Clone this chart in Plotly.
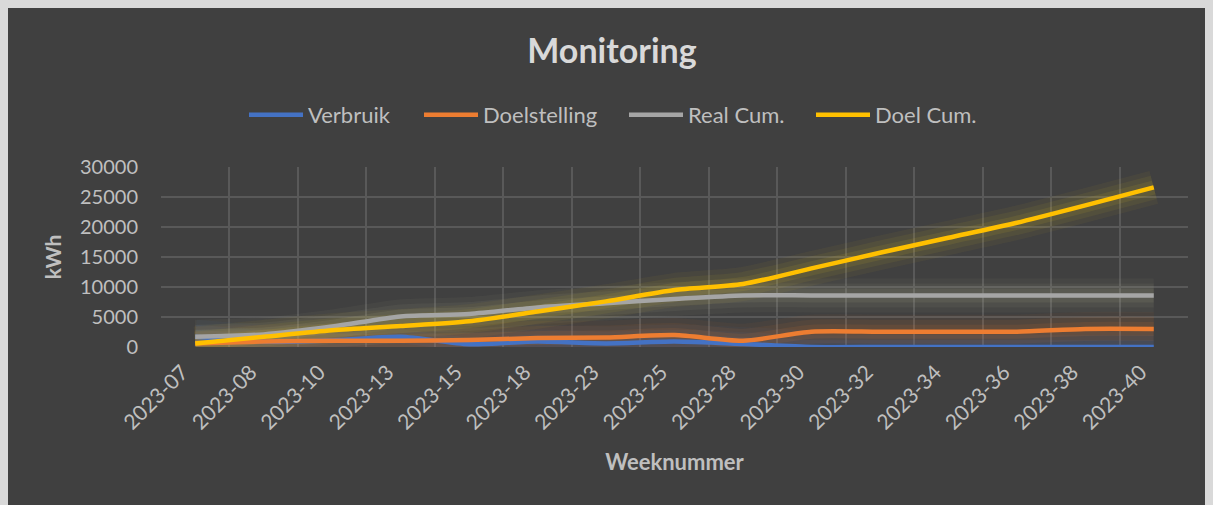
import plotly.graph_objects as go

weeks = ["2023-07", "2023-08", "2023-10", "2023-13", "2023-15", "2023-18", "2023-23",
         "2023-25", "2023-28", "2023-30", "2023-32", "2023-34", "2023-36", "2023-38", "2023-40"]
verbruik = [1700, 900, 1100, 1700, 450, 900, 600, 900, 500, 0, 0, 0, 0, 0, 0]
doelstelling = [600, 900, 1050, 1050, 1150, 1500, 1600, 2000, 1050, 2550, 2550, 2550, 2550, 3000, 3000]
real_cum = [1700, 2100, 3400, 5100, 5500, 6600, 7300, 8000, 8600, 8600, 8600, 8600, 8600, 8600, 8600]
doel_cum = [600, 1700, 2800, 3500, 4300, 5900, 7600, 9500, 10500, 13100, 15700, 18200, 20700, 23600, 26600]

series = [
    ("Verbruik", verbruik, "#4472C4", "68,114,196"),
    ("Doelstelling", doelstelling, "#ED7D31", "237,125,49"),
    ("Real Cum.", real_cum, "#A5A5A5", "190,190,150"),
    ("Doel Cum.", doel_cum, "#FFC000", "230,200,40"),
]
legend_px = [252, 427, 632, 819]  # left edge of each legend line (page px)

fig = go.Figure()
# glow layers
for name, vals, col, rgb in series:
    for w, a in [(34, 0.05), (24, 0.07), (14, 0.10)]:
        fig.add_trace(go.Scatter(x=weeks, y=vals, mode="lines", showlegend=False, hoverinfo="skip",
                                 line=dict(color=f"rgba({rgb},{a})", width=w, shape="spline", smoothing=0.7)))
legend_ids = ["legend", "legend2", "legend3", "legend4"]
for (name, vals, col, rgb), lid in zip(series, legend_ids):
    fig.add_trace(go.Scatter(x=weeks, y=vals, mode="lines", name=name, legend=lid,
                             line=dict(color=col, width=4.5, shape="spline", smoothing=0.7)))

txt = "#BFBFBF"
fnt = "Lato, Open Sans, sans-serif"
legend_layout = {}
for lid, px in zip(legend_ids, legend_px):
    legend_layout[lid] = dict(orientation="h", xref="paper", x=(px - 8 - 153 - 8) / 1027, xanchor="left",
                              y=(339 - 107) / 180, yanchor="middle", font=dict(size=22, color=txt),
                              bgcolor="rgba(0,0,0,0)", itemwidth=54)

# page body adds an 8px margin; figure occupies 1205x497 from (8,8)
fig.update_layout(
    width=1205, height=497,
    margin=dict(l=153, r=25, t=159, b=158, autoexpand=False),
    paper_bgcolor="#404040",
    plot_bgcolor="#404040",
    font=dict(family=fnt, color=txt, size=20),
    title=dict(text="<b>Monitoring</b>", x=604 / 1205, xref="container", xanchor="center",
               y=1 - 43 / 497, yref="container", yanchor="middle",
               font=dict(size=34, color="#D9D9D9", family=fnt)),
    xaxis=dict(type="category", tickson="boundaries", showgrid=True, gridcolor="#595959", gridwidth=1.5,
               tickangle=-45, ticks="", ticklabelstandoff=8, ticklabelshift=-13,
               zeroline=False, showline=False,
               range=[-0.5, 14.5], automargin=False,
               title=dict(text="<b>Weeknummer</b>", font=dict(size=22, color=txt), standoff=21),
               tickfont=dict(size=21, color=txt)),
    yaxis=dict(range=[0, 30000], dtick=5000, showgrid=True, gridcolor="#595959", gridwidth=1.5,
               zeroline=False, showline=False, ticklabelstandoff=22, tickformat="d", automargin=False,
               title=dict(text="<b>kWh</b>", font=dict(size=21, color=txt), standoff=12),
               tickfont=dict(size=20, color=txt)),
    **legend_layout,
)
fig.write_html("out.html", post_script="document.body.style.background='#D9D9D9';")
